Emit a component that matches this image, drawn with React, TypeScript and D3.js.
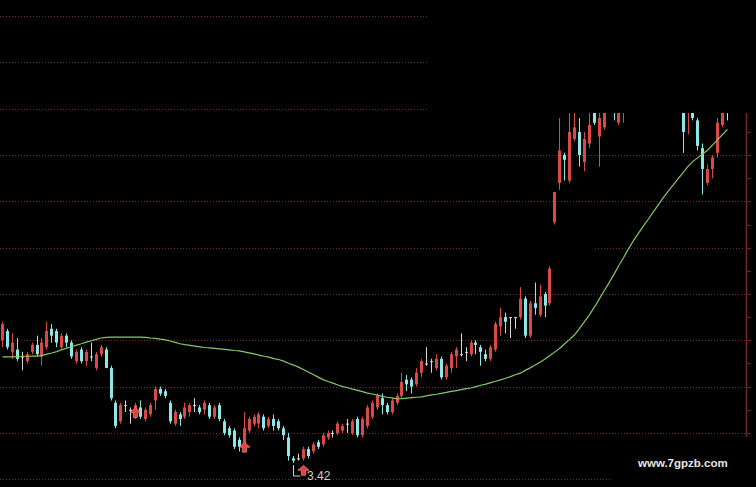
import React from "react";
import * as d3 from "d3";

const W = 756;
const H = 487;

// Daily candles (price units)
const opens = [
  3.95, 3.99, 3.90, 3.91, 3.88, 3.86, 3.90, 3.93, 3.88, 3.92,
  4.00, 3.99, 3.92, 3.97, 3.94, 3.86, 3.91, 3.86, 3.88, 3.83,
  3.89, 3.91, 3.83, 3.68, 3.60, 3.67, 3.65, 3.62, 3.66, 3.61,
  3.63, 3.69, 3.74, 3.73, 3.68, 3.59, 3.63, 3.62, 3.64, 3.67,
  3.66, 3.65, 3.67, 3.62, 3.67, 3.60, 3.57, 3.56, 3.52, 3.49,
  3.56, 3.59, 3.59, 3.62, 3.58, 3.61, 3.60, 3.57, 3.53, 3.44,
  3.44, 3.44, 3.48, 3.47, 3.51, 3.50, 3.53, 3.55, 3.55, 3.56,
  3.59, 3.55, 3.61, 3.54, 3.58, 3.62, 3.66, 3.70, 3.67, 3.64,
  3.68, 3.71, 3.78, 3.78, 3.76, 3.81, 3.85, 3.86, 3.83, 3.87,
  3.79, 3.83, 3.88, 3.89, 3.90, 3.89, 3.94, 3.92, 3.89, 3.87,
  3.91, 4.01, 4.05, 4.05, 4.05, 4.05, 4.13, 3.97, 4.11, 4.06,
  4.15, 4.11, 4.46, 4.63, 4.75, 4.64, 4.82, 4.85, 4.72, 4.80,
  4.99, 4.83, 4.87, 5.05, 4.99, 4.89, 4.95, 5.00, 5.05, 5.16,
  5.12, 5.21, 5.30, 5.25, 5.37, 5.27, 5.12, 5.16, 4.97, 4.94,
  4.97, 4.90, 4.78, 4.63, 4.69, 4.76, 4.88, 4.94,
];
const highs = [
  4.03, 4.00, 3.98, 3.96, 3.90, 3.90, 3.94, 3.97, 3.96, 4.03,
  4.02, 4.00, 3.98, 3.98, 3.95, 3.91, 3.92, 3.91, 3.94, 3.90,
  3.93, 3.92, 3.84, 3.69, 3.68, 3.69, 3.66, 3.68, 3.69, 3.66,
  3.68, 3.75, 3.75, 3.74, 3.69, 3.65, 3.64, 3.68, 3.68, 3.70,
  3.67, 3.69, 3.68, 3.67, 3.68, 3.61, 3.58, 3.57, 3.53, 3.64,
  3.62, 3.63, 3.64, 3.63, 3.62, 3.63, 3.61, 3.58, 3.55, 3.45,
  3.46, 3.49, 3.49, 3.51, 3.52, 3.55, 3.56, 3.56, 3.60, 3.59,
  3.61, 3.61, 3.62, 3.62, 3.67, 3.69, 3.72, 3.72, 3.68, 3.70,
  3.72, 3.81, 3.80, 3.79, 3.83, 3.87, 3.92, 3.87, 3.89, 3.88,
  3.85, 3.90, 3.92, 3.98, 3.92, 3.95, 3.95, 3.93, 3.91, 3.93,
  4.03, 4.09, 4.07, 4.05, 4.05, 4.18, 4.14, 4.12, 4.20, 4.19,
  4.16, 4.27, 4.59, 4.91, 4.76, 4.97, 4.97, 4.91, 4.85, 4.95,
  5.01, 4.99, 5.01, 5.07, 5.01, 5.03, 5.01, 5.07, 5.16, 5.18,
  5.25, 5.31, 5.33, 5.38, 5.40, 5.33, 5.25, 5.20, 4.99, 5.01,
  4.99, 4.91, 4.80, 4.71, 4.75, 4.91, 4.97, 4.99,
];
const lows = [
  3.92, 3.91, 3.87, 3.86, 3.82, 3.85, 3.89, 3.88, 3.84, 3.91,
  3.94, 3.92, 3.91, 3.92, 3.87, 3.85, 3.85, 3.84, 3.86, 3.82,
  3.88, 3.83, 3.69, 3.57, 3.59, 3.64, 3.59, 3.61, 3.61, 3.60,
  3.62, 3.65, 3.71, 3.70, 3.59, 3.58, 3.58, 3.61, 3.62, 3.64,
  3.63, 3.63, 3.61, 3.61, 3.60, 3.54, 3.53, 3.48, 3.47, 3.48,
  3.55, 3.58, 3.57, 3.56, 3.57, 3.56, 3.56, 3.52, 3.43, 3.42,
  3.43, 3.43, 3.44, 3.46, 3.48, 3.49, 3.52, 3.53, 3.54, 3.55,
  3.55, 3.54, 3.53, 3.53, 3.57, 3.61, 3.65, 3.63, 3.63, 3.63,
  3.67, 3.70, 3.73, 3.72, 3.75, 3.79, 3.84, 3.81, 3.82, 3.78,
  3.78, 3.81, 3.83, 3.88, 3.86, 3.88, 3.89, 3.84, 3.86, 3.86,
  3.90, 3.97, 3.98, 3.96, 4.00, 4.04, 3.96, 3.96, 4.06, 4.05,
  4.05, 4.10, 4.45, 4.60, 4.64, 4.63, 4.81, 4.70, 4.68, 4.78,
  4.88, 4.70, 4.86, 4.97, 4.90, 4.88, 4.89, 4.99, 5.03, 5.07,
  5.10, 5.20, 5.20, 5.23, 5.25, 5.14, 5.07, 4.99, 4.76, 4.84,
  4.90, 4.77, 4.58, 4.62, 4.65, 4.74, 4.87, 4.90,
];
const closes = [
  4.02, 3.92, 3.94, 3.87, 3.88, 3.89, 3.93, 3.89, 3.94, 3.99,
  3.97, 3.94, 3.97, 3.94, 3.88, 3.90, 3.86, 3.90, 3.88, 3.89,
  3.92, 3.83, 3.70, 3.58, 3.67, 3.67, 3.65, 3.67, 3.62, 3.65,
  3.67, 3.74, 3.72, 3.71, 3.60, 3.64, 3.61, 3.66, 3.67, 3.67,
  3.64, 3.68, 3.62, 3.66, 3.61, 3.55, 3.54, 3.49, 3.49, 3.57,
  3.61, 3.62, 3.63, 3.57, 3.61, 3.58, 3.57, 3.54, 3.45, 3.43,
  3.44, 3.48, 3.45, 3.50, 3.49, 3.54, 3.55, 3.55, 3.59, 3.58,
  3.59, 3.60, 3.54, 3.61, 3.66, 3.68, 3.71, 3.67, 3.64, 3.69,
  3.71, 3.77, 3.76, 3.75, 3.81, 3.86, 3.85, 3.86, 3.87, 3.79,
  3.84, 3.89, 3.91, 3.89, 3.90, 3.94, 3.93, 3.90, 3.87, 3.92,
  4.02, 4.05, 4.03, 4.05, 4.05, 4.13, 3.97, 4.11, 4.09, 4.14,
  4.10, 4.26, 4.59, 4.77, 4.73, 4.85, 4.87, 4.75, 4.82, 4.88,
  4.89, 4.91, 4.97, 4.99, 4.95, 4.99, 4.99, 5.05, 5.14, 5.10,
  5.23, 5.29, 5.23, 5.36, 5.27, 5.16, 5.20, 5.01, 4.85, 4.97,
  4.91, 4.79, 4.69, 4.69, 4.74, 4.89, 4.94, 4.94,
];
// Moving average line
const maValues = [
  3.878, 3.878, 3.878, 3.880, 3.881, 3.881, 3.882, 3.882, 3.884, 3.890,
  3.895, 3.901, 3.909, 3.916, 3.922, 3.929, 3.935, 3.942, 3.948, 3.954,
  3.960, 3.963, 3.964, 3.964, 3.964, 3.964, 3.964, 3.964, 3.964, 3.963,
  3.960, 3.958, 3.955, 3.952, 3.947, 3.941, 3.935, 3.931, 3.928, 3.925,
  3.922, 3.919, 3.917, 3.915, 3.913, 3.911, 3.909, 3.906, 3.904, 3.900,
  3.896, 3.891, 3.886, 3.881, 3.877, 3.871, 3.867, 3.860, 3.851, 3.843,
  3.834, 3.824, 3.813, 3.802, 3.791, 3.780, 3.772, 3.765, 3.757, 3.750,
  3.745, 3.739, 3.734, 3.728, 3.722, 3.718, 3.713, 3.708, 3.704, 3.701,
  3.697, 3.698, 3.700, 3.702, 3.704, 3.706, 3.710, 3.714, 3.717, 3.721,
  3.725, 3.729, 3.733, 3.737, 3.741, 3.744, 3.750, 3.756, 3.761, 3.767,
  3.773, 3.779, 3.786, 3.793, 3.801, 3.808, 3.820, 3.831, 3.843, 3.855,
  3.869, 3.884, 3.900, 3.916, 3.935, 3.954, 3.974, 4.002, 4.031, 4.060,
  4.093, 4.128, 4.164, 4.199, 4.236, 4.274, 4.310, 4.347, 4.383, 4.414,
  4.445, 4.475, 4.506, 4.536, 4.566, 4.594, 4.621, 4.648, 4.674, 4.701,
  4.723, 4.739, 4.756, 4.772, 4.794, 4.817, 4.839, 4.861,
];

const gridPrices = [3.35, 3.55, 3.75, 3.95, 4.15, 4.35, 4.55, 4.75, 4.95, 5.15, 5.35];
const axisTicks = [3.55, 3.65, 3.75, 3.85, 3.95, 4.05, 4.15, 4.25, 4.35, 4.45, 4.55, 4.65, 4.75, 4.85];
const signalIndex = [27, 49, 61];
const signalPrice = [3.66, 3.51, 3.41];
const lowIndex = 59;
const lowLabel = "3.42";
const watermark = "www.7gpzb.com";

const RED = "#d94a46";
const CYAN = "#8ee6e6";
const WHITE = "#d8d8d8";
const GRID = "#6e2c2c";

export default function App() {
  const n = opens.length;
  const x = d3.scaleLinear().domain([0, n - 1]).range([2, 727]);
  const y = d3.scaleLinear().domain([3.35, 5.35]).range([479.2, 16.2]);

  const maLine = d3
    .line<number>()
    .x((_, i) => x(i) + 0.5)
    .y((d) => y(d))(maValues) as string;

  const gridSegs = (p: number): [number, number][] => {
    if (p >= 4.95) return [[0, 427]];
    if (p <= 3.36) return [[0, 610]];
    if (Math.abs(p - 4.35) < 1e-6) return [[0, 480], [595, 745]];
    return [[0, 745]];
  };

  const arrow = (cx: number, ty: number) =>
    `M${cx},${ty} L${cx + 5.5},${ty + 5} L${cx + 2},${ty + 5} L${cx + 2},${ty + 10} L${cx - 2},${ty + 10} L${cx - 2},${ty + 5} L${cx - 5.5},${ty + 5} Z`;

  const lx = Math.round(x(lowIndex)) + 0.5;
  const ly = y(lows[lowIndex]);

  return (
    <svg
      width={W}
      height={H}
      style={{ position: "fixed", left: 0, top: 0, display: "block" }}
      fontFamily="'Liberation Sans', Arial, sans-serif"
    >
      <defs>
        <clipPath id="plot">
          <rect x={0} y={113} width={745} height={H - 113} />
        </clipPath>
      </defs>
      <rect x={0} y={0} width={W} height={H} fill="#000" />

      {gridPrices.map((p) =>
        gridSegs(p).map(([a, b], k) => (
          <line
            key={`${p}-${k}`}
            x1={a}
            x2={b}
            y1={Math.round(y(p)) + 0.5}
            y2={Math.round(y(p)) + 0.5}
            stroke={GRID}
            strokeWidth={1}
            strokeDasharray="1 2"
          />
        ))
      )}

      {/* right axis */}
      <line x1={746.5} x2={746.5} y1={113} y2={437} stroke="#7a2626" strokeWidth={1.5} />
      {axisTicks.map((t) => (
        <line
          key={t}
          x1={746.5}
          x2={751}
          y1={Math.round(y(t)) + 0.5}
          y2={Math.round(y(t)) + 0.5}
          stroke="#6a2424"
          strokeWidth={1}
        />
      ))}

      <g clipPath="url(#plot)">
        {opens.map((o, i) => {
          const c = closes[i];
          const color = c > o ? RED : c < o ? CYAN : WHITE;
          const cx = Math.round(x(i));
          const top = y(Math.max(o, c));
          const bot = y(Math.min(o, c));
          return (
            <g key={i}>
              <line
                x1={cx + 0.5}
                x2={cx + 0.5}
                y1={y(highs[i])}
                y2={y(lows[i])}
                stroke={color}
                strokeWidth={1}
              />
              <rect
                x={cx - 1}
                y={top}
                width={3}
                height={Math.max(1, bot - top)}
                fill={color}
              />
            </g>
          );
        })}
        <path d={maLine} fill="none" stroke="#86c86a" strokeWidth={1.2} />
      </g>

      {signalIndex.map((si, k) => (
        <path
          key={si}
          d={arrow(Math.round(x(si)) + 0.5, y(signalPrice[k]))}
          fill="#e2403a"
          stroke="#ff9a90"
          strokeWidth={0.6}
        />
      ))}

      <path
        d={`M${lx},${ly + 2} V476 H${lx + 7}`}
        fill="none"
        stroke="#cfcfcf"
        strokeWidth={1}
      />
      <text x={307} y={480} fontSize={12} fill="#cfcfcf">
        {lowLabel}
      </text>

      <text x={638} y={467} fontSize={11.5} fontWeight="bold" fill="#e6e6e6">
        {watermark}
      </text>
    </svg>
  );
}
